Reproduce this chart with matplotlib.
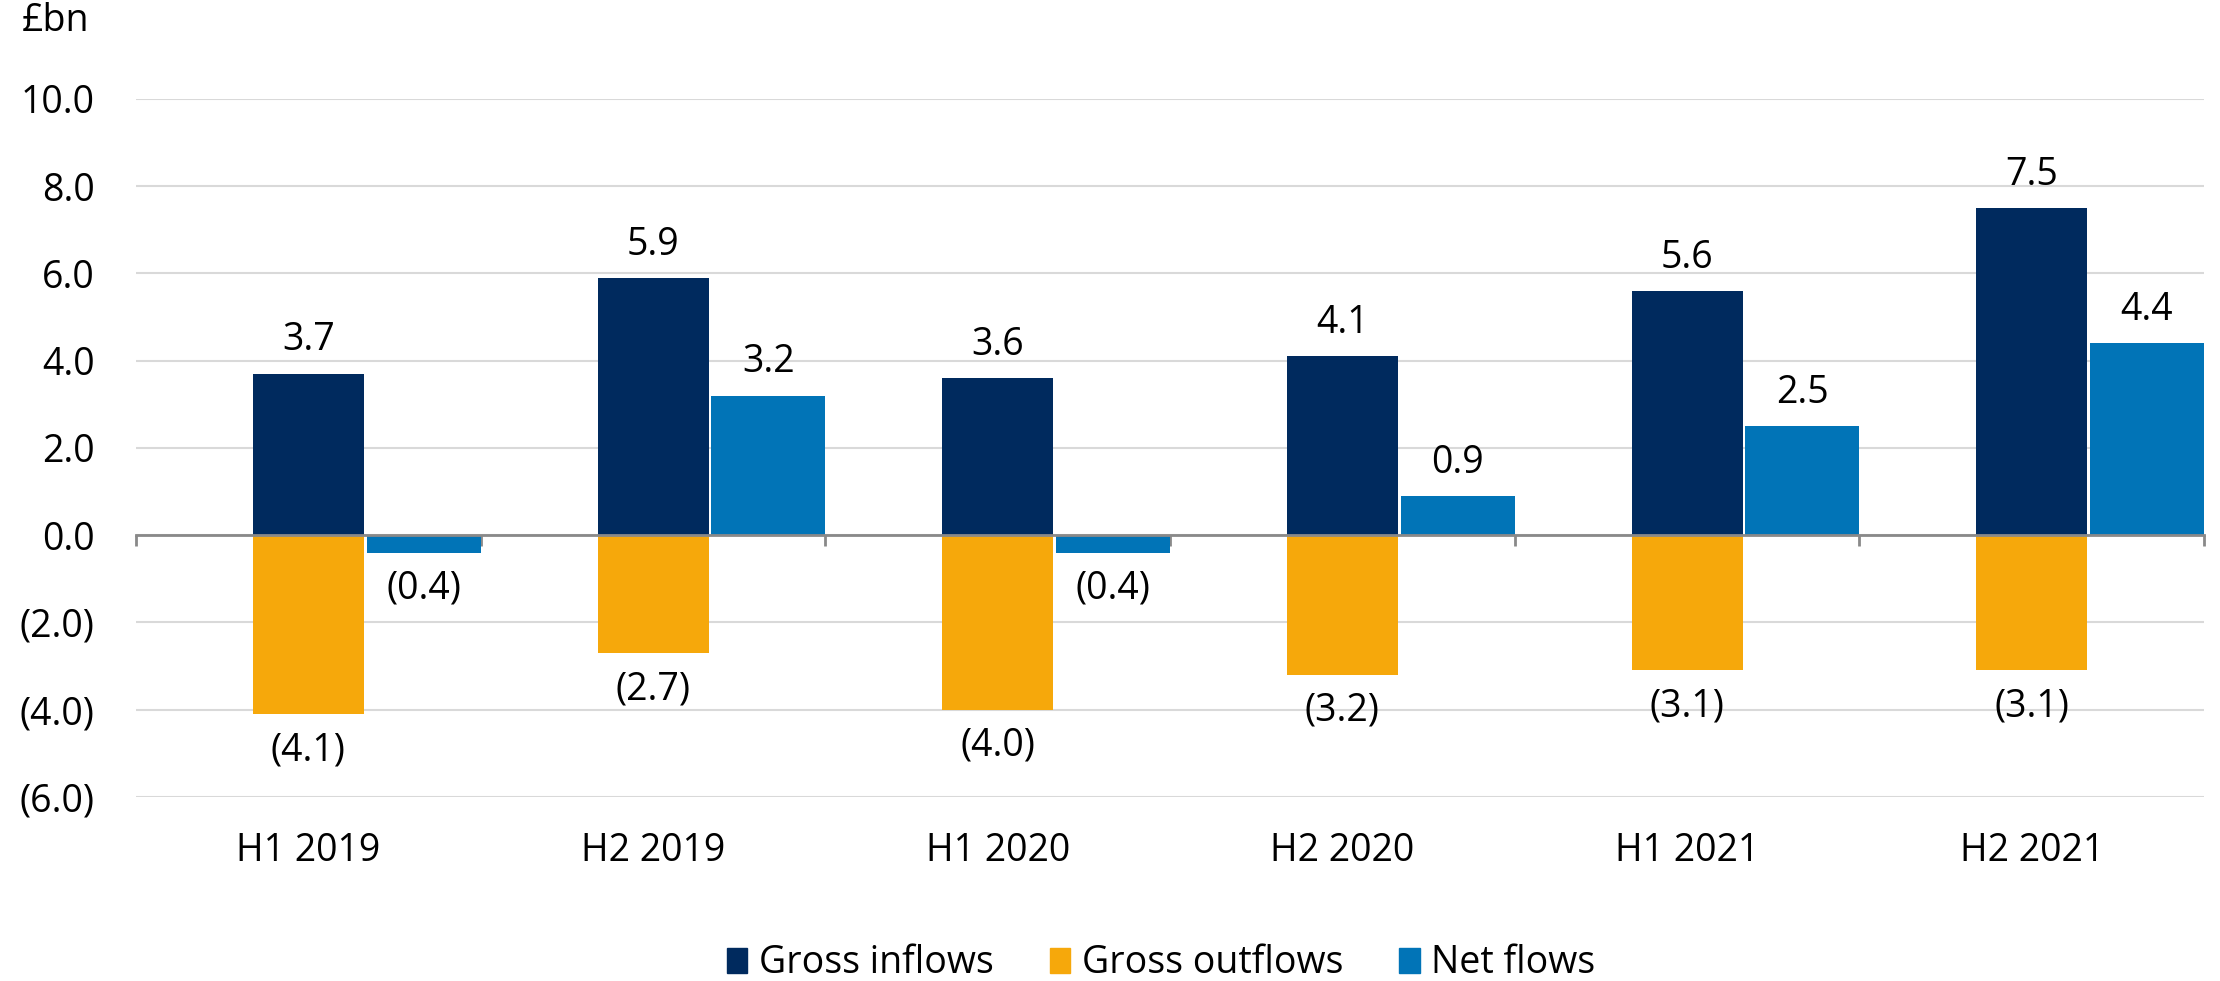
import numpy as np
import matplotlib
matplotlib.use('Agg')
import matplotlib.pyplot as plt
from matplotlib.patches import Patch


# Datos (GBP bn)

periods = ['H1 2019', 'H2 2019', 'H1 2020', 'H2 2020', 'H1 2021', 'H2 2021']
inflows = [3.7, 5.9, 3.6, 4.1, 5.6, 7.5]
outflows = [-4.1, -2.7, -4.0, -3.2, -3.1, -3.1]
net = [-0.4, 3.2, -0.4, 0.9, 2.5, 4.4]
yticks = [-6, -4, -2, 0, 2, 4, 6, 8, 10]

c_in = '#002A5E'
c_out = '#F6A80B'
c_net = '#0174B7'
fs = 27


def fmt(v):
    return f'{v:.1f}' if v >= 0 else f'({abs(v):.1f})'


plt.rcParams['font.family'] = ['Open Sans', 'DejaVu Sans']

fig = plt.figure(figsize=(22.2, 9.81), dpi=100)
ax = fig.add_axes([0.0613, 0.1876, 0.9315, 0.7115])

x = np.arange(len(periods))
x_net = x + 0.3345

ax.bar(x, inflows, 0.322, color=c_in, zorder=2)
ax.bar(x, outflows, 0.322, color=c_out, zorder=2)
ax.bar(x_net, net, 0.331, color=c_net, zorder=2)


# Etiquetas de valores

def label(xs, vals):
    for xi, v in zip(xs, vals):
        off = 24 if v >= 0 else -26
        ax.annotate(fmt(v), xy=(xi, v), xytext=(0, off), textcoords='offset points',
                    ha='center', va='center', fontsize=fs, color='black')

label(x, inflows)
label(x, outflows)
label(x_net, net)


# Ejes

ax.set_xlim(-0.5, len(periods) - 0.5)
ax.set_ylim(-6, 10)
ax.set_yticks(yticks)
ax.set_yticklabels([fmt(v) for v in yticks], fontsize=fs)
ax.tick_params(axis='y', length=0, pad=30)
ax.yaxis.grid(True, color='#D9D9D9', lw=1.5, zorder=0)
ax.set_axisbelow(True)

for s in ['left', 'right', 'top']:
    ax.spines[s].set_visible(False)
ax.spines['bottom'].set_position(('data', 0))
ax.spines['bottom'].set_color('#898989')
ax.spines['bottom'].set_linewidth(2)
ax.spines['bottom'].set_zorder(3)

ax.set_xticks(np.arange(-0.5, len(periods), 1))
ax.set_xticklabels([])
ax.tick_params(axis='x', direction='out', length=8, width=2, color='#898989')

for xi, p in zip(x, periods):
    ax.annotate(p, xy=(xi, -6), xytext=(0, -39), textcoords='offset points',
                ha='center', va='center', fontsize=fs)

fig.text(0.01, 0.979, '£bn', va='center', ha='left', fontsize=fs)

handles = [Patch(color=c_in, label='Gross inflows'),
           Patch(color=c_out, label='Gross outflows'),
           Patch(color=c_net, label='Net flows')]
fig.legend(handles=handles, loc='center', bbox_to_anchor=(0.523, 0.018), ncol=3,
           frameon=False, fontsize=fs, handlelength=0.55, handleheight=0.65,
           handletextpad=0.3, columnspacing=1.5)

fig.savefig('out.png', dpi=100)
